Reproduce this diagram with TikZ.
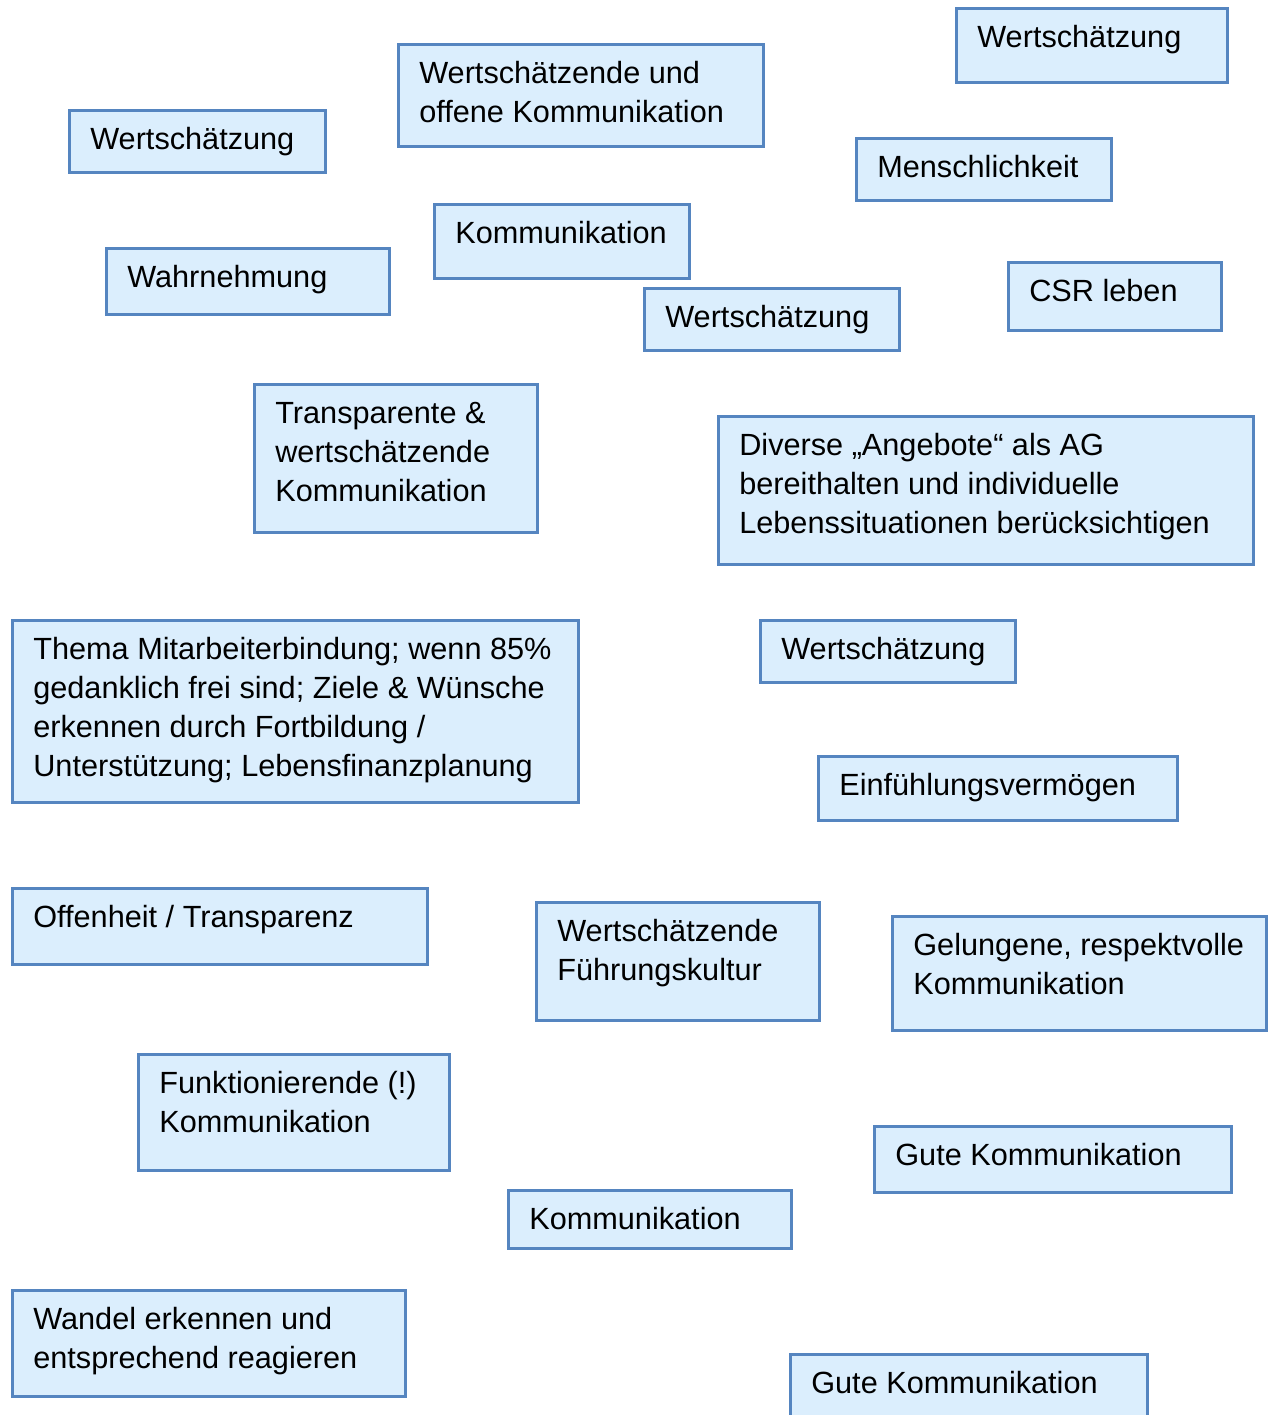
\documentclass[tikz,border=0pt]{standalone}
\usepackage{fontspec}
\setmainfont{Liberation Sans}
\definecolor{boxfill}{HTML}{DBEEFD}
\definecolor{boxline}{HTML}{5585C0}
\tikzset{
  boxst/.style={draw=boxline, fill=boxfill, line width=2.25pt, rectangle,
    inner sep=0pt, outer sep=0pt, anchor=north west},
  lbl/.style={anchor=north west, inner sep=0pt, outer sep=0pt, align=left,
    font=\fontsize{23pt}{29.2pt}\selectfont, text=black}
}
\newcommand{\mybox}[6]{%
  \node[boxst, minimum width={(#4-#2)*0.75pt}, minimum height={(#5-#3)*0.75pt}] (b#1) at (#2,#3) {};
  \node[lbl] (t#1) at ([xshift=16pt,yshift=-11pt]b#1.north west) {\rule{0pt}{18.75pt}#6};
}
\begin{document}
\begin{tikzpicture}[x=0.75pt,y=-0.75pt]
\clip (0,0) rectangle (1269,1415);
\fill[white] (0,0) rectangle (1269,1415);
\mybox{1}{956}{8}{1227}{82}{Wertschätzung}
\mybox{2}{398}{44}{763}{146}{Wertschätzende und\\offene Kommunikation}
\mybox{3}{69}{110}{325}{172}{Wertschätzung}
\mybox{4}{856}{138}{1111}{200}{Menschlichkeit}
\mybox{5}{434}{204}{689}{278}{Kommunikation}
\mybox{6}{106}{248}{389}{314}{Wahrnehmung}
\mybox{7}{1008}{262}{1221}{330}{CSR leben}
\mybox{8}{644}{288}{899}{350}{Wertschätzung}
\mybox{9}{254}{384}{537}{532}{Transparente \&\\wertschätzende\\Kommunikation}
\mybox{10}{718}{416}{1253}{564}{Diverse „Angebote“ als AG\\bereithalten und individuelle\\Lebenssituationen berücksichtigen}
\mybox{11}{12}{620}{578}{802}{Thema Mitarbeiterbindung; wenn 85\%\\gedanklich frei sind; Ziele \& Wünsche\\erkennen durch Fortbildung /\\Unterstützung; Lebensfinanzplanung}
\mybox{12}{760}{620}{1015}{682}{Wertschätzung}
\mybox{13}{818}{756}{1177}{820}{Einfühlungsvermögen}
\mybox{14}{12}{888}{427}{964}{Offenheit / Transparenz}
\mybox{15}{536}{902}{819}{1020}{Wertschätzende\\Führungskultur}
\mybox{16}{892}{916}{1266}{1030}{Gelungene, respektvolle\\Kommunikation}
\mybox{17}{138}{1054}{449}{1170}{Funktionierende (!)\\Kommunikation}
\mybox{18}{874}{1126}{1231}{1192}{Gute Kommunikation}
\mybox{19}{508}{1190}{791}{1248}{Kommunikation}
\mybox{20}{12}{1290}{405}{1396}{Wandel erkennen und\\entsprechend reagieren}
\mybox{21}{790}{1354}{1147}{1430}{Gute Kommunikation}
\end{tikzpicture}
\end{document}
